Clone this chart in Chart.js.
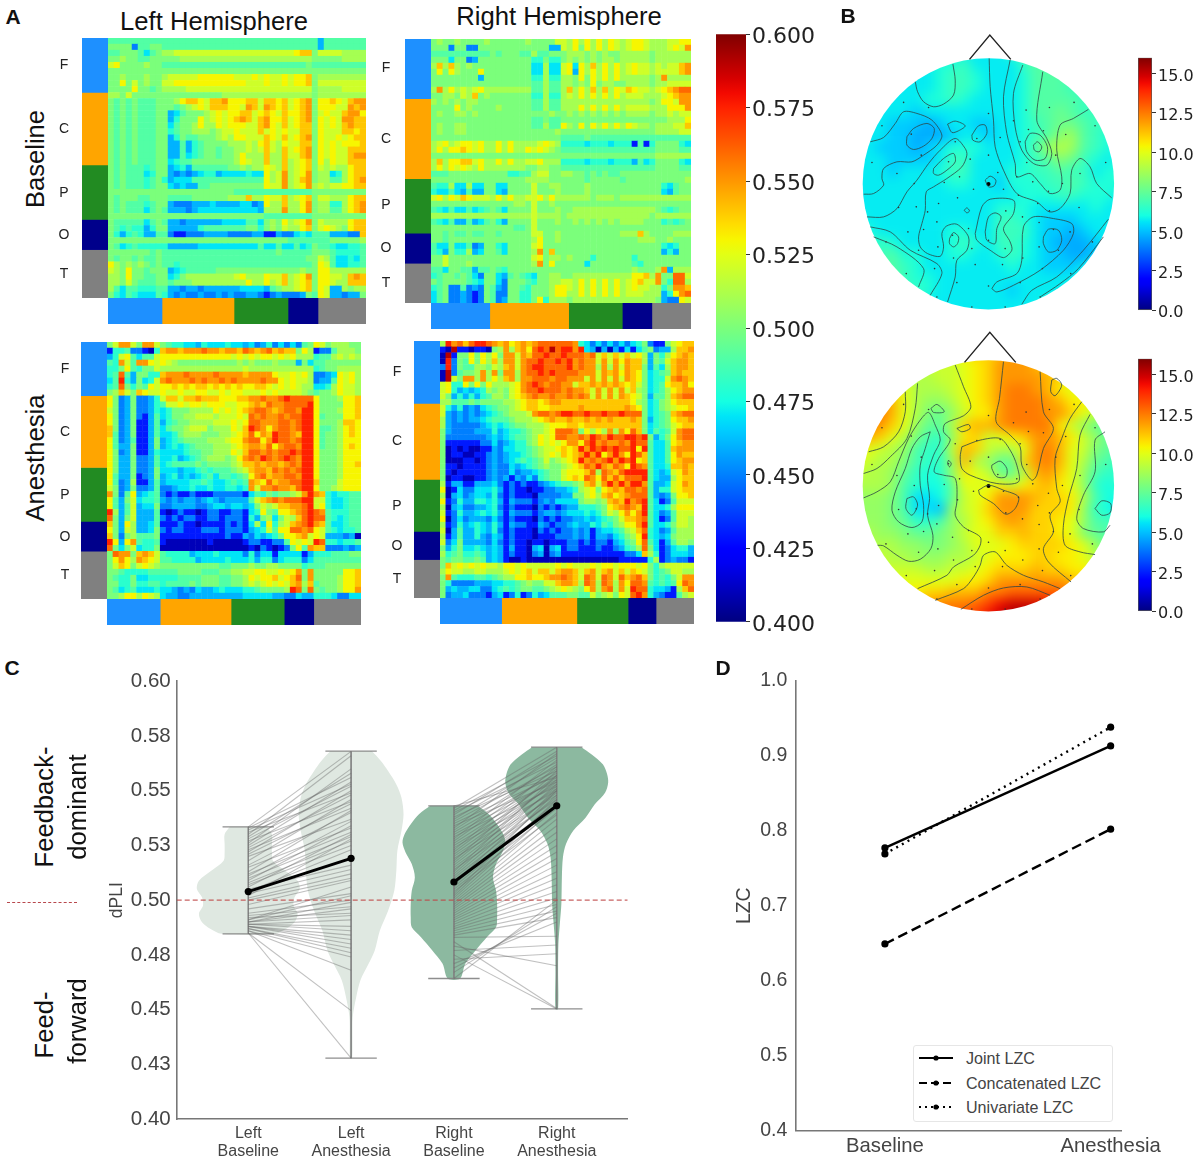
<!DOCTYPE html>
<html>
<head>
<meta charset="utf-8">
<title>dPLI and LZC</title>
<script src="https://cdn.jsdelivr.net/npm/chart.js@4"></script>
<style>
  body { margin: 0; background: #fff; }
  #page { position: relative; width: 1200px; height: 1161px; overflow: hidden; font-family: "Liberation Sans", Arial, sans-serif; }
  canvas { position: absolute; }
  .txt { position: absolute; white-space: nowrap; transform-origin: center; }
</style>
</head>
<body>
<div id="page"></div>
<script>
// dPLI matrices: one hex digit per cell, see heatLevels. Groups are F C P O T.
const heatLevels = { 0: 0.41, 1: 0.43, 2: 0.45, 3: 0.46, 4: 0.47, 5: 0.48, 6: 0.49, 7: 0.5, 8: 0.51, 9: 0.52, a: 0.53, b: 0.54, c: 0.55, d: 0.56, e: 0.575, f: 0.59 };

const leftBaseline = [
  "666666666 666666666666 666666666 66666 36666666",
  "777726677 666666666666 666666666 66666 36666666",
  "667776467 889999999999 999999999 9abb7 99998888",
  "778776677 777888888888 888888888 88887 77778888",
  "9a7777877 666666666666 666666666 66676 66666666",
  "777777777 777777777777 777777777 77777 77777777",
  "778777877 899999aaaaaa 999a9a99a 9aab7 88888888",
  "77a797877 99aaaaaaaaaa aa999a99a 9aab7 99999999",
  "7777a7767 888899999999 999999999 99997 88889999",
  "887977777 777777777788 888888888 88887 88888888",
  "767676667 778abba9bbca aabb9bbab 9abc7 aaba9bcc",
  "767676667 776789a9bbba a9cb9cbab 9abc7 aaa99cbc",
  "767676667 734677789a9a abb9aba9b aabc7 9a99bcca",
  "767676667 735777a89a9a bcb9bcaab 9abc7 a9a9ccbb",
  "767676667 746778a88a9a aa99bca9b 9abb7 a9a9bcbb",
  "767676667 756778887899 a999b9a9a 99bb7 a999bbab",
  "767676667 735766777898 aa999ba9b 9abc7 a99a9abb",
  "767676667 733635677778 8898ab98a 99bb7 a9a9aaab",
  "767676667 733635677677 88989b98b 9abc7 a9a99bbb",
  "767676667 733645677677 8a888b88b 99bc7 a9a99bcc",
  "767676667 745667777777 8a988b88b 89ab7 a8a99bbb",
  "767666567 734536666667 78788a98b 89ab7 98988abb",
  "767666457 732323455344 44544a89c 89ac7 88458abb",
  "767666567 534446666666 66666a89c 89bc7 88668abc",
  "767666567 743433667777 77777a99c 89ac8 9899aabb",
  "777777777 777777777777 666666666 66667 77777777",
  "767776677 766667777778 88b88a99b 89ab7 99888abb",
  "767666567 732223334333 34423a88b 88ac7 88558abc",
  "767666467 633323444444 44443888c 88ac7 88668abc",
  "777777777 777777777777 777776666 66667 77777777",
  "766666467 633233333344 44664787a 89ac7 98888abb",
  "765655357 733333566666 667757879 88ab7 9a987abb",
  "753565336 621122233332 222331132 24546 6633322b",
  "777777777 777777777777 777777777 66666 66777778",
  "764565555 533333444444 444464464 46457 66544556",
  "777777767 666666666666 666666676 66667 77655556",
  "767767667 666666666666 666666666 66677 98644546",
  "a87878767 665666666666 666666666 66667 a9644556",
  "987a77677 734566666777 777777777 77877 aa888888",
  "887a77667 745788888888 9a888a99b 89ac7 aa998bcb",
  "887976667 767778888888 88a88a89b 89ab7 aa988bbb",
  "864665556 633233233333 344443678 89ab7 a9338788",
  "754654446 532322322323 223321232 22376 a9332337"
];

const leftAnesthesia = [
  "79cc97cc9 765544354445 443423524 24267 a9788877",
  "155622105 bccbcccdccbc cbdcbcdbc bb7a8 12268887",
  "359a64669 aaaaaaaaaaaa 9a9a9aa9a 9a888 56689898",
  "65c96cca9 a98777777777 787877787 77374 66777777",
  "557a65779 888888888888 889888888 88888 56778888",
  "56d637755 bcccdccccdcc ccbcccca9 9a9a8 2234a9a8",
  "46e537459 cdcccdcdccdc dccccdcca 9a998 2336a9a8",
  "56d7576a9 aabababbabab abaabba9a 9a988 4458a998",
  "78b97ba99 a99a99aa99a9 aa999a9a9 99987 6778a998",
  "a72372235 9bb9bbcbbbaa abbccdccd edddd a7778aab",
  "a72372235 699a9aa9aaa9 9aabcbdcc dddde a7777aab",
  "972372235 457778888a9a 9abcddcbc ddcee a7778aab",
  "a72372136 457788999899 9a9dcdccd cddee a6777aab",
  "a72371136 356778888999 a9addcccd dcdee a7778bba",
  "b72371136 467789997888 a9bedcacd dcdee a6678aba",
  "b62371136 445788877788 9abdacbed dcbee a6778aba",
  "a62361137 345677778889 aacddaced dcdee a6778aaa",
  "a63371137 345456777888 9abccbdac ddcee a6778aba",
  "a72371135 444456677888 a9bddcdcd dedee a7778aaa",
  "a73372236 445345678887 8acdcedcd edcee a7778aaa",
  "a73372236 456666767777 89bbcbccb cdcee a7778aab",
  "a73372237 444344565666 789bccbdc dcdee a7778aaa",
  "a63371237 345343456466 567acdbcc ddcee a7778aaa",
  "a62381136 344445565445 656cbadbc cddee b7779aaa",
  "972372236 223445445445 545c9ccdc cbdee a7789aaa",
  "c726a3456 212112111222 221465767 789ce cb545566",
  "a63794556 323233234323 33369bcdc dddee 99544566",
  "a63693447 223333223443 44347989b bccde 9a544566",
  "e83693336 101211012211 22145a76a abcde dc655566",
  "d73793336 212122112212 221537847 98bde dd654566",
  "b73a83346 111211011112 121484a58 9bcde cb644566",
  "a73983347 212211122212 22134596a addcd a9654556",
  "b72786667 111111111112 113243457 aabc9 a9333230",
  "ea3ac6556 100000001000 001221122 6a9a9 ed554556",
  "d74794557 000000000000 000102101 27a6c bb222323",
  "7dcc7bcb9 655553444544 442524414 44413 55566677",
  "7aca8cba9 665555344445 444535524 55524 66666666",
  "79ba79a98 777777777766 777877887 77756 66777777",
  "776555566 666777766677 8899aa99a 9ac7c 77777aab",
  "765574455 555666677766 778a9aab9 abd7c 77778aab",
  "775575566 566667677766 778989a9a 9bc8b 67778aab",
  "764564445 443232433454 445567777 8ed7d 76778aac",
  "778aa8a98 433223333333 334444433 22433 55542244"
];

const rightBaseline = [
  "7877877778 77777787777998 a8a8a8a98 9aa98 8899aa",
  "7772772277 77777777773398 a7a8a8a98 9aa98 889a9c",
  "6666666666 76777668667778 887878778 88887 888888",
  "7774772377 77777775575578 787878878 88887 888888",
  "8b8b878777 7777777448449a 4a8b8a8a8 9a998 9899bc",
  "7a7a8777a7 7777777448449a 3a8a8a8a8 9a998 9999bc",
  "7777777737 77777775585588 7a7a8a8a8 88887 8c8888",
  "7777777777 77777776686688 787a78877 88887 889999",
  "8c8a8989a8 8888888668668b 8a8b8b8a9 ba998 9abcdd",
  "7788798b78 77777775585589 8a8a8a8a8 99988 89abcc",
  "8787878877 77777776686688 888888888 88887 8aa9cc",
  "7777a78777 78777776686688 8a8a8a8a8 99998 88aaac",
  "7877887877 77777777778778 787878787 88887 889899",
  "7777777777 77777776676677 777777777 77777 77888a",
  "7877887777 777777766866a8 7a7a8a8a8 a9887 88899b",
  "7877887777 77777777777877 777777777 77777 888899",
  "7777777777 77777777777766 667666666 66666 666666",
  "89a89aa9a8 8a8a88889a9855 554555455 51615 777754",
  "8a8aaba9a8 8a8a88a9a98766 666666666 66666 777766",
  "7777777777 77777777777777 777777777 77777 888888",
  "8b8aabb9a8 8a8a8899a88855 554555455 53645 777754",
  "8a8a9a98a8 88888877887766 666666666 66666 777766",
  "6667777777 77755668997788 776767667 77777 777777",
  "7777777777 77777788887777 776777776 77777 777778",
  "6558448447 74477779778877 778777777 77777 754677",
  "5446436337 74377779777877 778777777 77777 743677",
  "9a8a9ba999 8a8a8899a8a888 888788878 88888 888888",
  "7777777777 77778879778777 777777777 77777 777777",
  "6546446456 76477779777877 888888888 88888 765677",
  "8888888888 88888889888878 888888888 88887 888888",
  "6546336346 75377779777877 878787878 88877 756567",
  "7777777777 77776679777777 777777777 77777 777777",
  "7767667667 76777779977877 777777778 88b87 777888",
  "7767777777 77777778a77877 777777777 77888 778777",
  "6447446237 75477779a77777 777777777 77777 754577",
  "6537558347 76477778c7b777 777777777 77777 735377",
  "7797777777 77777779a78878 777577777 75777 777777",
  "7797778777 77777778c7a777 774777777 76577 777777",
  "6647766366 76577777777777 777777777 78777 8c3888",
  "5677676427 74367654778877 888888888 8aab8 c77dd9",
  "7677776547 74277765778899 8a8a8a8a8 9ab99 c75dd8",
  "5672262327 63277657778aa9 8a8a8a8a8 9a998 857ccb",
  "4672232127 62277557778aa8 8a8a8a8a8 99988 835acd",
  "4672232127 62377557a58887 888888888 88888 7322a9"
];

const rightAnesthesia = [
  "8ecdbdeedc bcabcbcddddddc 542424242 45721 179abb",
  "10f1101107 8c8bcadedfdeec e43030314 14672 338bbc",
  "0f177a7a8a 7cc9cbddeddedd dcd9b9b9b 9a837 58abcb",
  "0e276a7a8b 8cc9cddeddedec dcc9c9cac bb837 69bccb",
  "2e27668879 8bc9cdeeddddec dcc8c8c9c bb736 48bccb",
  "0f26778c8c 7cc8cddededddd ccc9cbcac ba745 67bcbb",
  "0f97cc8c8a 8bc8ccdddcddcc c9c9c9c9c ba745 59cdcb",
  "9a55a7a7a8 889acdedcddcc9 bbcbcbcba b9745 6abbca",
  "9a53434587 879acddedddcdc cb9c9c9c9 b8745 68abcc",
  "9735353568 879abcdccdccdc dc9c9c9cb a9736 68bcdd",
  "8866676777 7889abbabccbbb bbbbbbbbb a8745 78abbb",
  "9535232456 7789abbaabbbbb cbbbbbbbc ba745 789aab",
  "9323232345 678889cddcdeed deddedded dd745 67bcdd",
  "8323233456 6678889abcbbcb bcbcbcbbb cb735 67abbc",
  "8322222345 456778889aaabb abbbbbbbb bb745 679abb",
  "7322223335 345567889adddc 7a8a8c8ca db746 569cdd",
  "7222222234 3456678a9addcc dcedcedde ede73 57acdd",
  "7111111224 2345578a9a9acc adecdccdc edd64 46abcc",
  "7010100113 2445567899abab ecedededd eae64 46bccc",
  "7011001123 234456789a9bab ceceaceca edb64 46acbb",
  "7000110123 234565679789ab ecdcdeced eab64 46abcc",
  "7110111123 2243456787789a bdcecbdca edc64 45bbcb",
  "7101111123 224233456779aa abd8dcbde eee64 349acb",
  "7011001123 231324256779ab adcadbdbd dde64 338abb",
  "8133113334 21212112345667 8bc9cecec eec63 349acb",
  "a014224445 31211011223345 89a7abcbd dcd63 559abb",
  "8034234435 21211102222337 79a8bcabc ddd63 237aab",
  "a125335545 31322212324444 78878bcbe cde64 126999",
  "8034223345 21211102121233 55567abcd cbe64 458aaa",
  "9125334545 31322212332344 4545798ac ace64 236999",
  "a024233324 21211102121223 34345679b bcd64 126998",
  "8125345435 31322113212234 33546578a ace64 457998",
  "9036335435 21211102121223 231344568 9bd54 236888",
  "8136335324 31211101112223 231332457 8ae54 347888",
  "9247333324 21211011011122 121221346 7ad64 136887",
  "7357445434 31311034034122 111211235 68d74 124553",
  "8567556534 31211023023111 111111112 24b85 124443",
  "7677667634 31001000000000 000000011 11158 123221",
  "7b9a9a9a99 8aa9a99999a9a9 99a9aa9aa a9a75 899999",
  "8a99889988 89a9ab9bb9bccb 9bc9bc9b9 ba975 679988",
  "7c65556656 788aabaabccdcb 9dc9dc9db cdb75 6579cc",
  "7522223334 45567877 99bccb 8dc8dc8ca ddc65 656adc",
  "7343344224 56567766789a98 7ac8cd8c9 edd54 4318bd",
  "7233422213 41251253466677 6697897a9 dec53 211689"
];

// block sizes along each matrix edge, in cells
const blockNames = ["F", "C", "P", "O", "T"];
const leftBlocks = [9, 12, 9, 5, 8];
const rightBaseBlocks = [59.6, 80, 54.4, 30, 39.7];
const rightAnesBlocks = [61.7, 75.3, 51.3, 28, 38];
const blockColors = ["#1e90ff", "#ffa500", "#228b22", "#00008b", "#808080"];

const dpliBarTicks = [0.4, 0.425, 0.45, 0.475, 0.5, 0.525, 0.55, 0.575, 0.6];
const topoBarTicks = [0, 2.5, 5, 7.5, 10, 12.5, 15];

// sensor maps: one letter per grid cell, each next letter + 0.5
const topoLevels = "abcdefghijklmnopqrstuvwx";
const topoBaselineStart = 3.7;
const topoAnesthesiaStart = 4;
const topoBaseline = [
  "eeeeeeeeeeeeegghggfffff",
  "eeeeeeeffgeeeeghhhggfff",
  "eeeeeeefggfeeefhhhggfff",
  "eeeeeeefggfeeefhhhggfff",
  "eeeeeeffgfeeeefhhhhgggg",
  "eeeeedeeeeeeeefhhihgggf",
  "eeedddcdeeddeefghiihggf",
  "eeeddcccdeedeefghjkhgfe",
  "eedddcdefffeeefhklkhgfe",
  "eeeddddeggeeeefghjigfef",
  "eeedeeefggeeeffgghggeff",
  "eeeeeeeeffeedfffgghgfff",
  "eeeeeeeeeeeeeefffggfffe",
  "eeeeeeeeeeeefffeeeeefee",
  "feeeeeeeeeeeggfedddeeee",
  "ffeeeeeeffeegggeddcdeee",
  "gfgfeeeefgfeggfedcccdee",
  "ggghffeeffeefgfeddccdef",
  "hhhhgfeeeeeeefeedddefgg",
  "hhhhgffeeeeeeeeeeeeffgg",
  "hhhhggfeeeeeedeeeefgggg",
  "hhhggfeeeeeeeeeefffgggg",
  "gggggfeeeeeeeeefffggggg"
];
const topoAnesthesia = [
  "mmmmmmmlmnoopqqponmmmll",
  "nonmlllllmnoqqqpoommlll",
  "pqpnlkkllmnoqqqqpomnmll",
  "rqqomkkklmnoqrrqpnmmmll",
  "rrrpmkjjkmnoqrrrqpnnmmk",
  "ssrpmkihjlnnqrrrqqomlkj",
  "srqomjhhkoppqrrrrnljhgg",
  "qpomkigfjnolmnoqqpnljhg",
  "nmlkjgfflpolkkmqrpmlihg",
  "mlkkigffjpkjhhoqrpmkhgf",
  "lkkjhfefjnmlhhkpqomjgff",
  "kkkjgfeehmmmnlnopnmjfef",
  "jjjigddehlmnqqqpoonkgee",
  "jjjigddcjlmoqqqooonjfed",
  "jjjihffgjkmnpqpoonmjggf",
  "kkjjihhijlmmoopoonmihgg",
  "lkkkjjiijkmmmnoooonmjhh",
  "lllkkjjjkklmnnnoonnmkjj",
  "mmllllkkllmnooopoonnmlk",
  "nmmmmmmmmnnoqqqqqqpoonn",
  "oooonnooppprrsssssrrqpp",
  "ppppqqqrrrstvwwwvtsrrqq",
  "qqqqqrrssttvwxxxwvtssrr"
];

// contour lines and sensors, in head-map units
const contoursBaseline = [
  [[338,132],[345,180],[340,225],[310,252],[280,260],[250,245],[232,215],[225,185]],
  [[90,365],[130,352],[165,310],[190,275],[230,280],[275,300],[305,345],[290,375],[250,405],[215,425],[170,425],[130,445],[125,475],[130,495],[100,520],[70,522]],
  [[200,350],[220,325],[260,310],[282,325],[275,355],[250,378],[220,388],[200,375],[200,350]],
  [[322,312],[345,303],[375,317],[355,332],[335,337],[322,312]],
  [[395,345],[415,317],[435,315],[440,340],[420,365],[398,360],[395,345]],
  [[80,590],[130,590],[170,565],[200,515],[230,480],[265,430],[300,390],[345,355],[375,385],[380,405],[365,440],[320,475],[280,500],[258,515],[255,570],[245,610],[235,650],[240,680],[262,700],[300,708],[310,680],[305,640],[318,618],[350,612],[385,650],[380,690],[350,720],[345,770],[322,845]],
  [[280,445],[310,415],[340,400],[345,425],[320,450],[295,465],[280,460],[280,445]],
  [[328,655],[340,637],[355,650],[352,670],[340,680],[328,670],[328,655]],
  [[435,480],[450,468],[467,480],[462,497],[445,500],[435,480]],
  [[405,640],[425,560],[450,537],[520,540],[520,580],[490,625],[510,665],[515,690],[490,712],[450,690],[410,660],[405,640]],
  [[435,635],[445,590],[465,578],[483,590],[470,625],[465,670],[440,660],[435,635]],
  [[447,115],[450,200],[460,300],[465,380],[490,450],[530,520],[590,545],[628,575],[660,565],[690,520],[695,450],[720,415],[750,440],[770,490],[815,533]],
  [[510,120],[490,230],[500,340],[525,430],[530,470],[570,460],[600,490],[630,520],[660,510],[665,470],[650,390],[660,315],[700,295],[745,268]],
  [[548,135],[520,220],[525,320],[545,390],[580,430],[620,435],[635,400],[620,355],[590,300],[608,155]],
  [[555,365],[570,340],[600,345],[622,380],[615,415],[585,420],[560,395],[555,365]],
  [[580,375],[592,365],[605,380],[597,395],[583,390],[580,375]],
  [[455,805],[470,785],[530,760],[545,720],[550,620],[580,590],[640,595],[695,610],[700,640],[670,690],[600,750],[520,795],[470,815],[455,805]],
  [[610,650],[625,627],[655,630],[665,660],[650,690],[625,695],[610,670],[610,650]],
  [[545,852],[575,810],[650,770],[730,690],[805,597]],
  [[600,830],[660,790],[715,745],[790,650]],
  [[90,620],[150,635],[210,690],[290,730],[305,760],[270,825]],
  [[100,650],[170,680],[250,745],[235,800]],
  [[372,570],[380,563],[388,572],[380,578],[372,570]]
];
const contoursAnesthesia = [
  [[85,380],[130,365],[175,320],[195,260],[195,200]],
  [[70,445],[110,430],[150,395],[200,340],[225,250],[232,175]],
  [[70,518],[110,500],[150,470],[175,410],[205,340],[240,285],[265,262],[285,300],[300,345],[280,390],[262,450],[268,520],[262,570],[278,630],[272,670],[240,702],[205,708],[170,690],[130,662],[112,660]],
  [[272,250],[290,238],[312,260],[280,262],[272,250]],
  [[270,320],[255,370],[240,420],[240,480],[250,540],[245,590],[215,607],[175,590],[155,555],[165,500],[195,430],[215,370],[240,335],[270,320]],
  [[200,520],[220,515],[232,540],[215,570],[197,550],[200,520]],
  [[345,120],[370,185],[392,245],[370,272],[315,295],[310,320],[330,345],[295,400],[282,440],[310,450],[345,460],[350,530],[345,570],[370,605],[420,635],[420,660],[400,690],[340,725],[320,750],[232,790]],
  [[490,110],[478,220],[468,290],[510,330],[540,365],[545,420],[575,465],[590,450],[610,370],[640,310],[610,260],[600,140]],
  [[635,165],[650,160],[665,180],[645,212],[632,200],[635,165]],
  [[350,310],[385,298],[390,310],[365,320],[350,310]],
  [[325,405],[333,415],[328,425],[322,415],[325,405]],
  [[365,365],[420,345],[480,340],[510,375],[530,420],[535,470],[470,475],[390,450],[365,430],[360,395],[365,365]],
  [[455,420],[480,408],[500,430],[497,455],[470,455],[455,430],[455,420]],
  [[415,495],[445,480],[490,495],[535,515],[525,550],[497,567],[460,535],[420,510],[415,495]],
  [[725,230],[690,280],[665,340],[645,400],[650,490],[660,530],[630,570],[640,620],[610,670],[625,710],[693,770]],
  [[750,268],[720,330],[710,430],[685,520],[670,600],[675,660],[720,680],[765,688]],
  [[795,320],[765,345],[765,440],[730,510],[710,580],[730,610],[790,620],[810,600]],
  [[765,550],[785,527],[812,535],[810,563],[785,570],[765,550]],
  [[285,825],[370,790],[400,755],[420,720],[430,690],[465,680],[500,720],[550,750],[610,770],[660,790]],
  [[362,852],[430,810],[490,788],[560,785],[630,810]]
];
const sensors = [[190,247],[265,262],[445,280],[558,270],[628,262],[702,247],[125,317],[213,342],[345,365],[410,355],[520,302],[565,328],[610,332],[677,343],[765,317],[480,352],[540,365],[95,427],[170,460],[243,405],[325,425],[390,417],[445,405],[560,427],[647,405],[720,460],[797,427],[222,490],[312,487],[358,470],[490,507],[530,470],[578,485],[625,513],[667,490],[175,562],[228,560],[262,575],[295,550],[352,533],[400,507],[473,457],[535,525],[593,550],[628,572],[717,562],[203,635],[250,628],[290,605],[337,645],[385,625],[445,660],[497,572],[547,590],[597,607],[640,628],[690,635],[757,665],[137,665],[235,690],[293,680],[340,713],[395,685],[495,685],[548,713],[597,680],[655,690],[198,760],[283,745],[350,787],[405,733],[487,733],[540,787],[607,745],[692,760],[290,830],[395,860],[445,797],[495,860],[600,830]];

// panel C
const dpliCategories = [["Left", "Baseline"], ["Left", "Anesthesia"], ["Right", "Baseline"], ["Right", "Anesthesia"]];
const dpliTickLabels = ["0.40", "0.43", "0.45", "0.48", "0.50", "0.53", "0.55", "0.58", "0.60"];
const dpliMeans = [0.5039, 0.5191, 0.5083, 0.5431];
const violinY = [
  [0.5335, 0.5301, 0.5256, 0.5218, 0.518, 0.5134, 0.5089, 0.5051, 0.5013, 0.4975, 0.4937, 0.4899, 0.4869, 0.4846],
  [0.5681, 0.5636, 0.559, 0.5529, 0.5468, 0.5393, 0.5317, 0.5226, 0.5134, 0.5043, 0.4952, 0.4861, 0.477, 0.4709, 0.4633, 0.4557, 0.4466, 0.4375, 0.4278],
  [0.5431, 0.5393, 0.5347, 0.5301, 0.5263, 0.5218, 0.5165, 0.5104, 0.5043, 0.4983, 0.4922, 0.4876, 0.4831, 0.477, 0.4709, 0.4642],
  [0.5699, 0.5666, 0.562, 0.5575, 0.5537, 0.5491, 0.5438, 0.5377, 0.5317, 0.5256, 0.5195, 0.5104, 0.4983, 0.4891, 0.48, 0.4679, 0.4503]
];
const violinWidth = [
  [0.18, 0.23, 0.23, 0.23, 0.24, 0.36, 0.48, 0.5, 0.45, 0.44, 0.48, 0.45, 0.37, 0.26],
  [0.2, 0.29, 0.36, 0.44, 0.49, 0.51, 0.49, 0.45, 0.44, 0.42, 0.36, 0.28, 0.23, 0.17, 0.09, 0.05, 0.016, 0.013, 0.01],
  [0.23, 0.34, 0.42, 0.48, 0.5, 0.47, 0.41, 0.38, 0.41, 0.42, 0.42, 0.41, 0.32, 0.21, 0.11, 0.06],
  [0.24, 0.34, 0.45, 0.49, 0.5, 0.47, 0.37, 0.28, 0.16, 0.09, 0.06, 0.05, 0.045, 0.03, 0.016, 0.013, 0.013]
];
const violinColors = ["#dfe8e1", "#dfe8e1", "#8cb9a0", "#8cb9a0"];
const leftBaseVals = [0.5335, 0.533, 0.532, 0.531, 0.53, 0.529, 0.528, 0.527, 0.526, 0.525, 0.524, 0.523, 0.522, 0.521, 0.52, 0.518, 0.516, 0.515, 0.513, 0.512, 0.511, 0.51, 0.509, 0.508, 0.507, 0.506, 0.505, 0.504, 0.503, 0.502, 0.501, 0.5, 0.498, 0.496, 0.494, 0.493, 0.492, 0.491, 0.491, 0.49, 0.49, 0.49, 0.489, 0.489, 0.489, 0.488, 0.488, 0.488, 0.487, 0.487, 0.486, 0.486, 0.485, 0.485];
const leftAnesVals = [0.568, 0.556, 0.553, 0.549, 0.566, 0.558, 0.552, 0.545, 0.56, 0.554, 0.548, 0.542, 0.55, 0.544, 0.537, 0.546, 0.54, 0.533, 0.541, 0.531, 0.536, 0.529, 0.534, 0.527, 0.525, 0.53, 0.516, 0.523, 0.514, 0.528, 0.512, 0.51, 0.509, 0.503, 0.5, 0.497, 0.494, 0.506, 0.502, 0.499, 0.496, 0.493, 0.491, 0.488, 0.486, 0.484, 0.482, 0.48, 0.478, 0.476, 0.474, 0.468, 0.4495, 0.4278];
const rightBaseVals = [0.543, 0.542, 0.541, 0.54, 0.539, 0.538, 0.537, 0.536, 0.535, 0.534, 0.533, 0.532, 0.531, 0.53, 0.529, 0.528, 0.527, 0.526, 0.525, 0.524, 0.523, 0.522, 0.521, 0.52, 0.519, 0.518, 0.517, 0.516, 0.515, 0.514, 0.513, 0.512, 0.511, 0.51, 0.509, 0.508, 0.507, 0.506, 0.505, 0.504, 0.503, 0.502, 0.501, 0.5, 0.499, 0.498, 0.497, 0.496, 0.495, 0.494, 0.493, 0.492, 0.491, 0.49, 0.489, 0.488, 0.487, 0.486, 0.485, 0.484, 0.483, 0.481, 0.479, 0.477, 0.475, 0.473, 0.471, 0.469, 0.467, 0.4642];
const rightAnesVals = [0.556, 0.5699, 0.566, 0.563, 0.568, 0.559, 0.565, 0.561, 0.557, 0.554, 0.567, 0.562, 0.558, 0.555, 0.552, 0.564, 0.56, 0.556, 0.553, 0.55, 0.561, 0.557, 0.554, 0.551, 0.548, 0.559, 0.555, 0.552, 0.549, 0.546, 0.557, 0.553, 0.55, 0.547, 0.544, 0.551, 0.548, 0.545, 0.542, 0.539, 0.55, 0.546, 0.543, 0.54, 0.537, 0.534, 0.531, 0.528, 0.525, 0.522, 0.519, 0.516, 0.513, 0.51, 0.507, 0.504, 0.501, 0.498, 0.495, 0.492, 0.4835, 0.4505, 0.47, 0.4795, 0.4503, 0.4755, 0.49, 0.494, 0.497, 0.5];

// panel D
const lzcCategories = ["Baseline", "Anesthesia"];
const lzcTickLabels = ["0.4", "0.5", "0.6", "0.7", "0.8", "0.9", "1.0"];
const jointLzc = [0.777, 0.913];
const concatLzc = [0.649, 0.802];
const univarLzc = [0.769, 0.938];

Chart.defaults.font.family = "'Liberation Sans', Arial, sans-serif";
const page = document.getElementById("page");

function mkCanvas(left, top, w, h, css) {
  const c = document.createElement("canvas");
  c.width = w;
  c.height = h;
  c.style.cssText = `left:${left}px;top:${top}px;width:${w}px;height:${h}px;${css || ""}`;
  page.appendChild(c);
  return c;
}

function label(text, x, y, size, opts) {
  const o = opts || {};
  const d = document.createElement("div");
  d.className = "txt";
  d.textContent = text;
  d.style.cssText = `left:${x}px;top:${y}px;font-size:${size}px;color:${o.color || "#111"};font-weight:${o.bold ? "bold" : "normal"};transform:translate(-50%,-50%) rotate(${o.rot || 0}deg);`;
  page.appendChild(d);
}

function baseOptions() {
  return {
    responsive: false,
    animation: false,
    events: [],
    layout: { padding: 0, autoPadding: false },
    plugins: { legend: { display: false }, tooltip: { enabled: false } }
  };
}

// matplotlib jet
const jetR = [[0, 0], [0.35, 0], [0.66, 1], [0.89, 1], [1, 0.5]];
const jetG = [[0, 0], [0.125, 0], [0.375, 1], [0.64, 1], [0.91, 0], [1, 0]];
const jetB = [[0, 0.5], [0.11, 1], [0.34, 1], [0.65, 0], [1, 0]];
function channel(tbl, t) {
  for (let i = 1; i < tbl.length; i++) {
    if (t <= tbl[i][0]) {
      const f = (t - tbl[i - 1][0]) / (tbl[i][0] - tbl[i - 1][0]);
      return Math.round(255 * (tbl[i - 1][1] + f * (tbl[i][1] - tbl[i - 1][1])));
    }
  }
  return Math.round(255 * tbl[tbl.length - 1][1]);
}
function jet(t) {
  const v = Math.min(1, Math.max(0, t));
  return `rgb(${channel(jetR, v)},${channel(jetG, v)},${channel(jetB, v)})`;
}

function cellChart(canvas, rows, valueOf, colorOf, side) {
  const clean = rows.map((r) => r.replace(/ /g, ""));
  const n = clean.length;
  const cols = Math.max(...clean.map((r) => r.length));
  const points = [];
  const colors = [];
  clean.forEach((row, y) => {
    row.padEnd(cols, row[row.length - 1]).split("").forEach((ch, x) => {
      points.push({ x, y });
      colors.push(colorOf(valueOf(ch)));
    });
  });
  const opts = baseOptions();
  opts.scales = {
    x: { type: "linear", display: false, min: -0.5, max: cols - 0.5 },
    y: { type: "linear", display: false, min: -0.5, max: n - 0.5, reverse: true }
  };
  new Chart(canvas, {
    type: "scatter",
    data: { datasets: [{ data: points, pointStyle: "rect", pointRadius: side * Math.SQRT1_2, pointBorderWidth: 0, pointBackgroundColor: colors }] },
    options: opts
  });
}

function blockBar(canvas, sizes, horizontal) {
  const total = sizes.reduce((a, b) => a + b, 0);
  const opts = baseOptions();
  opts.indexAxis = horizontal ? "y" : "x";
  const along = { type: "linear", display: false, stacked: true, min: 0, max: total, reverse: !horizontal };
  const across = { display: false, stacked: true };
  opts.scales = horizontal ? { x: along, y: across } : { x: across, y: along };
  new Chart(canvas, {
    type: "bar",
    data: {
      labels: [""],
      datasets: sizes.map((s, i) => ({ label: blockNames[i], data: [s], backgroundColor: blockColors[i], barPercentage: 1, categoryPercentage: 1, borderWidth: 0 }))
    },
    options: opts
  });
}

function heatPanel(rows, box, blocks) {
  const cols = rows[0].replace(/ /g, "").length;
  const cell = box.w / cols;
  cellChart(mkCanvas(box.x, box.y, box.w, box.h, "filter:blur(0.6px);"), rows, (c) => heatLevels[c], (v) => jet((v - 0.4) / 0.2), cell + 0.5);
  blockBar(mkCanvas(box.x - 26, box.y, 26, box.h), blocks, false);
  blockBar(mkCanvas(box.x, box.y + box.h, box.w, 26), blocks, true);
}

function colorBar(left, top, barW, scaleW, barH, pad, min, max, ticks, decimals, fontSize, edge, shift) {
  const opts = baseOptions();
  opts.layout = { padding: { top: pad, bottom: pad }, autoPadding: false };
  opts.scales = {
    x: { display: false },
    y: {
      type: "linear", position: "right", min, max,
      border: { display: false },
      grid: { drawOnChartArea: false, drawTicks: true, tickLength: 4, color: "#333" },
      afterFit: (s) => { s.width = scaleW; },
      afterBuildTicks: (s) => { s.ticks = ticks.map((v) => ({ value: v })); },
      ticks: { padding: 2, labelOffset: shift, color: "#222", font: { family: "'DejaVu Sans'", size: fontSize }, autoSkip: false, callback: (v) => v.toFixed(decimals) }
    }
  };
  new Chart(mkCanvas(left, top, barW + scaleW, barH + 2 * pad), {
    type: "bar",
    data: {
      labels: [""],
      datasets: [{
        data: [[min, max]],
        barPercentage: 1,
        categoryPercentage: 1,
        borderWidth: edge ? 1 : 0,
        borderColor: "#555",
        borderSkipped: false,
        backgroundColor: (c) => {
          const a = c.chart.chartArea;
          if (!a) return "#888";
          const g = c.chart.ctx.createLinearGradient(0, a.bottom, 0, a.top);
          for (let i = 0; i <= 40; i++) g.addColorStop(i / 40, jet(i / 40));
          return g;
        }
      }]
    },
    options: opts
  });
}

// head maps: blurred heat layer clipped to the head, contour layer above it
function headMap(rows, start, contours, nose, topPx, yMin, yMax, cy) {
  const scale = 3;
  const left = 850.7;
  const size = 826 / scale;
  const heatTop = topPx + yMin / scale;
  cellChart(
    mkCanvas(left, heatTop, Math.round(size), Math.round(size),
      `filter:blur(6px);clip-path:circle(125.7px at 137.7px ${(cy - yMin) / scale}px);`),
    rows,
    (c) => start + 0.5 * topoLevels.indexOf(c),
    (v) => jet(v / 16),
    12.5
  );
  const opts = baseOptions();
  opts.scales = {
    x: { type: "linear", display: false, min: 32, max: 858 },
    y: { type: "linear", display: false, min: 0, max: yMax, reverse: true }
  };
  const lineSets = contours.map((c) => ({
    data: c.map((p) => ({ x: p[0], y: p[1] })),
    showLine: true, borderColor: "rgba(45,70,70,0.8)", borderWidth: 1, tension: 0.3, pointRadius: 0
  }));
  const dy = cy - 491.5;
  lineSets.push({ data: sensors.map((p) => ({ x: p[0], y: p[1] + dy })), pointRadius: 0.8, pointBorderWidth: 0, pointBackgroundColor: "#333" });
  lineSets.push({ data: [{ x: 445, y: 491.5 + dy }], pointRadius: 2, pointBorderWidth: 0, pointBackgroundColor: "#000" });
  lineSets.push({ data: nose.map((p) => ({ x: p[0], y: p[1] })), showLine: true, borderColor: "#222", borderWidth: 1.4, pointRadius: 0 });
  new Chart(mkCanvas(left, topPx, Math.round(size), Math.round(yMax / scale)), { type: "scatter", data: { datasets: lineSets }, options: opts });
}

function drawPanelA() {
  heatPanel(leftBaseline, { x: 108, y: 38, w: 258, h: 260 }, leftBlocks);
  heatPanel(rightBaseline, { x: 431, y: 39, w: 260, h: 264 }, rightBaseBlocks);
  heatPanel(leftAnesthesia, { x: 107, y: 342, w: 254, h: 257 }, leftBlocks);
  heatPanel(rightAnesthesia, { x: 440, y: 341, w: 254, h: 257 }, rightAnesBlocks);
  colorBar(716, 19, 30, 90, 588, 15, 0.4, 0.6, dpliBarTicks, 3, 22, false, 3);

  label("Left Hemisphere", 214, 21, 25.6);
  label("Right Hemisphere", 559, 16, 25.7);
  label("Baseline", 35, 159, 25.6, { rot: -90 });
  label("Anesthesia", 35, 458, 25.7, { rot: -90 });
  [[64, [64, 128, 192, 234, 273]], [386, [67, 138, 204, 247, 282]], [65, [368, 431, 494, 536, 574]], [397, [371, 440, 505, 545, 578]]].forEach((col) => {
    col[1].forEach((y, i) => label(blockNames[i], col[0], y, 14, { color: "#222" }));
  });
}

function drawPanelB() {
  headMap(topoBaseline, topoBaselineStart, contoursBaseline, [[388, 118], [449, 45], [512, 118]], 20, 79, 905, 491.5);
  headMap(topoAnesthesia, topoAnesthesiaStart, contoursAnesthesia, [[373, 112], [449, 22], [527, 112]], 325, 69, 896, 482.5);
  colorBar(1138, 45, 14, 48, 253, 12.7, 0, 16, topoBarTicks, 1, 16, true, 3);
  colorBar(1138, 346, 14, 48, 253, 12.7, 0, 16, topoBarTicks, 1, 16, true, 3);
}

function drawPanelC() {
  const sets = [];
  // first dataset is painted last
  sets.push({
    data: [{ x: 0, y: dpliMeans[0] }, { x: 1, y: dpliMeans[1] }],
    showLine: true, borderColor: "#000", borderWidth: 3, pointRadius: 3.6, pointBackgroundColor: "#000", pointBorderWidth: 0
  });
  sets.push({
    data: [{ x: 2, y: dpliMeans[2] }, { x: 3, y: dpliMeans[3] }],
    showLine: true, borderColor: "#000", borderWidth: 3, pointRadius: 3.6, pointBackgroundColor: "#000", pointBorderWidth: 0
  });
  sets.push({
    data: [{ x: -0.696, y: 0.5 }, { x: 3.69, y: 0.5 }],
    showLine: true, borderColor: "rgba(190,70,70,0.85)", borderWidth: 1.2, borderDash: [5, 3], pointRadius: 0
  });
  leftBaseVals.forEach((v, i) => {
    sets.push({ data: [{ x: 0, y: v }, { x: 1, y: leftAnesVals[i] }], showLine: true, borderColor: "rgba(105,105,105,0.42)", borderWidth: 1.1, pointRadius: 0 });
  });
  rightBaseVals.forEach((v, i) => {
    sets.push({ data: [{ x: 2, y: v }, { x: 3, y: rightAnesVals[i] }], showLine: true, borderColor: "rgba(105,105,105,0.42)", borderWidth: 1.1, pointRadius: 0 });
  });
  violinY.forEach((ys, k) => {
    const hi = ys[0];
    const lo = ys[ys.length - 1];
    const gray = { showLine: true, borderColor: "rgba(130,130,130,0.9)", pointRadius: 0 };
    sets.push({ ...gray, borderWidth: 1, data: [{ x: k, y: hi }, { x: k, y: lo }] });
    sets.push({ ...gray, borderWidth: 1.4, data: [{ x: k - 0.25, y: hi }, { x: k + 0.25, y: hi }] });
    sets.push({ ...gray, borderWidth: 1.4, data: [{ x: k - 0.25, y: lo }, { x: k + 0.25, y: lo }] });
  });
  // the right pair sits over the left pair
  [2, 3, 0, 1].forEach((k) => {
    const ys = violinY[k];
    const w = violinWidth[k];
    const right = ys.map((y, i) => ({ x: k + w[i], y }));
    const left = ys.map((y, i) => ({ x: k - w[i], y })).reverse();
    sets.push({
      data: right.concat(left),
      showLine: true, fill: "shape", tension: 0.3, borderWidth: 0, pointRadius: 0,
      borderColor: violinColors[k], backgroundColor: violinColors[k]
    });
  });

  const opts = baseOptions();
  opts.layout = { padding: { top: 15, right: 12.3 }, autoPadding: false };
  opts.scales = {
    x: {
      type: "linear", min: -0.696, max: 3.69,
      grid: { display: false, drawTicks: false }, border: { color: "#777", width: 1.6 },
      afterFit: (s) => { s.height = 41; },
      afterBuildTicks: (s) => { s.ticks = [0, 1, 2, 3].map((v) => ({ value: v })); },
      ticks: { autoSkip: false, maxRotation: 0, padding: 6, color: "#444", font: { size: 16, lineHeight: 1.1 }, callback: (v) => dpliCategories[v] }
    },
    y: {
      type: "linear", min: 0.4, max: 0.6,
      grid: { display: false, drawTicks: false }, border: { color: "#777", width: 1.6 },
      title: { display: true, text: "dPLI", color: "#444", font: { size: 17.5 }, padding: { top: 7, bottom: 0 } },
      afterFit: (s) => { s.width = 76.7; },
      ticks: { stepSize: 0.025, autoSkip: false, padding: 6, color: "#444", font: { size: 20.5 }, callback: (v, i) => dpliTickLabels[i] }
    }
  };
  new Chart(mkCanvas(100, 663, 540, 497), { type: "scatter", data: { datasets: sets }, options: opts });

  label("Feedback-", 44, 807, 25.6, { rot: -90 });
  label("dominant", 77, 807, 25.6, { rot: -90 });
  label("Feed-", 44, 1025, 25.6, { rot: -90 });
  label("forward", 77, 1021, 25.6, { rot: -90 });
  const dash = document.createElement("div");
  dash.style.cssText = "position:absolute;left:7px;top:902px;width:70px;border-top:1.2px dashed #b8484d;";
  page.appendChild(dash);
}

function drawPanelD() {
  const line = (name, vals, dash) => ({
    label: name,
    data: vals.map((y, x) => ({ x, y })),
    showLine: true, borderColor: "#000", borderWidth: 2.4, borderDash: dash,
    pointRadius: 3.6, pointBackgroundColor: "#000", pointBorderWidth: 0
  });
  const opts = baseOptions();
  opts.layout = { padding: { top: 15, right: 78.3 }, autoPadding: false };
  opts.scales = {
    x: {
      type: "linear", min: -0.397, max: 1.049,
      grid: { display: false, drawTicks: false }, border: { color: "#777", width: 1.6 },
      afterFit: (s) => { s.height = 29.3; },
      afterBuildTicks: (s) => { s.ticks = [0, 1].map((v) => ({ value: v })); },
      ticks: { autoSkip: false, maxRotation: 0, padding: 4, color: "#444", font: { size: 20.3 }, callback: (v) => lzcCategories[v] }
    },
    y: {
      type: "linear", min: 0.4, max: 1,
      grid: { display: false, drawTicks: false }, border: { color: "#777", width: 1.6 },
      title: { display: true, text: "LZC", color: "#444", font: { size: 19.4 }, padding: { top: 3, bottom: 0 } },
      afterFit: (s) => { s.width = 65.3; },
      ticks: { stepSize: 0.1, autoSkip: false, padding: 8, color: "#444", font: { size: 19.5 }, callback: (v, i) => lzcTickLabels[i] }
    }
  };
  new Chart(mkCanvas(730, 661, 470, 499), {
    type: "scatter",
    data: { datasets: [line("Joint LZC", jointLzc, []), line("Concatenated LZC", concatLzc, [10, 5]), line("Univariate LZC", univarLzc, [2, 4.5])] },
    options: opts
  });

  // legend box sits inside the axes at lower right
  const box = document.createElement("div");
  box.style.cssText = "position:absolute;left:912.7px;top:1045px;width:200px;height:76.7px;box-sizing:border-box;border:1px solid #e6e6e6;border-radius:3px;background:#fff;";
  page.appendChild(box);
  [["Joint LZC", "", 1058], ["Concatenated LZC", "8 4", 1083], ["Univariate LZC", "2 4", 1107]].forEach((row) => {
    const svg = document.createElementNS("http://www.w3.org/2000/svg", "svg");
    svg.setAttribute("width", "36");
    svg.setAttribute("height", "10");
    svg.style.cssText = `position:absolute;left:918px;top:${row[2] - 5}px;`;
    svg.innerHTML = `<line x1="1" y1="5" x2="35" y2="5" stroke="#000" stroke-width="2" stroke-dasharray="${row[1]}"/><circle cx="18" cy="5" r="2.6" fill="#000"/>`;
    page.appendChild(svg);
    const t = document.createElement("div");
    t.className = "txt";
    t.textContent = row[0];
    t.style.cssText = `left:966px;top:${row[2] - 9}px;font-size:16.1px;color:#444;line-height:18px;`;
    page.appendChild(t);
  });
}

function main() {
  drawPanelA();
  drawPanelB();
  drawPanelC();
  drawPanelD();
  label("A", 13, 17, 21, { bold: true });
  label("B", 848, 16, 21, { bold: true });
  label("C", 12, 668, 21, { bold: true });
  label("D", 723, 668, 21, { bold: true });
}

main();
</script>
</body>
</html>
